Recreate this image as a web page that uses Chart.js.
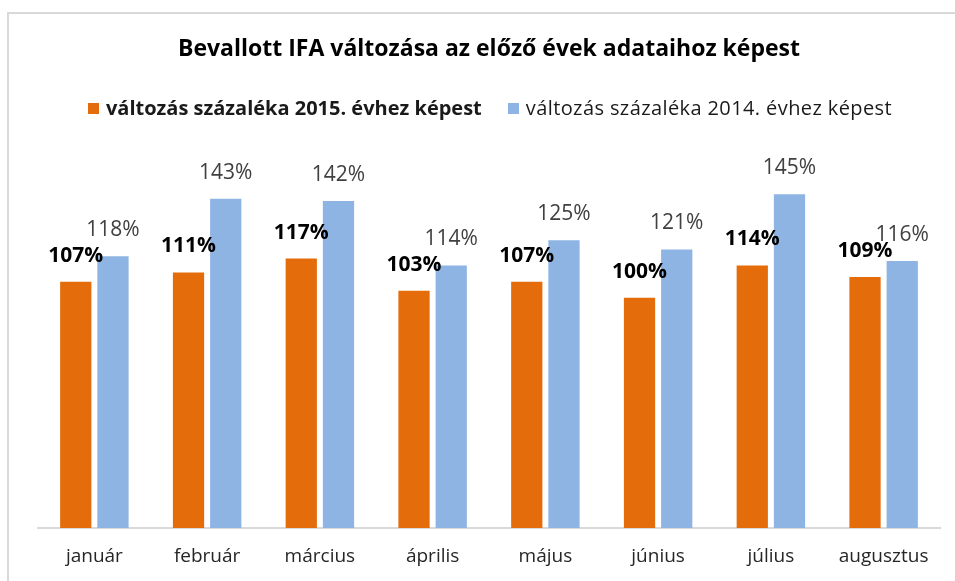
<!DOCTYPE html>
<html lang="hu">
<head>
<meta charset="UTF-8">
<title>Bevallott IFA változása</title>
<script src="https://cdn.jsdelivr.net/npm/chart.js"></script>
<style>
  body { margin: 0; background: #fff; font-family: "Open Sans", sans-serif; }
  .frame { position: absolute; left: 7px; top: 12px; width: 960px; height: 580px; border: 2px solid #d9d9d9; box-sizing: border-box; }
  .wrap { position: absolute; left: 0; top: 0; width: 955px; height: 581px; }
  #legend { position: absolute; top: 94px; left: 0; width: 980px; text-align: center; font-size: 20px; color: #1a1a1a; white-space: nowrap; }
  #legend span.item { display: inline-block; margin: 0 13px; }
  #legend span.box { display: inline-block; width: 11px; height: 11px; margin-right: 7px; vertical-align: 1px; }
</style>
</head>
<body>
<div class="frame"></div>
<div class="wrap"><canvas id="ifaChart" width="955" height="581"></canvas></div>
<div id="legend"></div>

<script>
const honapok = ['január', 'február', 'március', 'április', 'május', 'június', 'július', 'augusztus'];
const valtozas2015 = [107, 111, 117, 103, 107, 100, 114, 109];
const valtozas2014 = [118, 143, 142, 114, 125, 121, 145, 116];

// felirat a bar-ok fölé
const cimkek = {
    id: 'cimkek',
    afterDatasetsDraw(chart) {
        const ctx = chart.ctx;
        ctx.save();
        chart.data.datasets.forEach((ds, i) => {
            const meta = chart.getDatasetMeta(i);
            ctx.font = (i === 0 ? 'bold ' : '') + '21px "Open Sans", sans-serif';
            ctx.fillStyle = i === 0 ? '#000' : '#404040';
            ctx.textAlign = 'center';
            ctx.textBaseline = 'middle';
            meta.data.forEach((bar, j) => {
                ctx.fillText(ds.data[j] + '%', bar.x, bar.y - 26);
            });
        });
        ctx.restore();
    }
};

const ctx = document.getElementById('ifaChart').getContext('2d');
const chart = new Chart(ctx, {
    type: 'bar',
    data: {
        labels: honapok,
        datasets: [
            {
                label: 'változás százaléka 2015. évhez képest',
                data: valtozas2015,
                backgroundColor: '#E46C0A',
                categoryPercentage: 0.66,
                barPercentage: 0.84
            },
            {
                label: 'változás százaléka 2014. évhez képest',
                data: valtozas2014,
                backgroundColor: '#8EB4E3',
                categoryPercentage: 0.66,
                barPercentage: 0.84
            }
        ]
    },
    options: {
        responsive: false,
        animation: false,
        layout: { padding: { left: 38, right: 15, bottom: 11, top: 0 } },
        scales: {
            y: { display: false, min: 0, max: 160 },
            x: {
                grid: { display: false, drawTicks: false },
                border: { display: true, color: '#d9d9d9', width: 2 },
                ticks: { color: '#262626', padding: 17, font: { size: 19, family: 'Open Sans' } },
                afterFit: (scale) => { scale.height = 42; }
            }
        },
        plugins: {
            legend: { display: false },
            tooltip: { enabled: false },
            title: {
                display: true,
                text: 'Bevallott IFA változása az előző évek adataihoz képest',
                color: '#000',
                font: { size: 23, weight: 'bold', family: 'Open Sans' },
                padding: { top: 36, bottom: 96 }
            }
        }
    },
    plugins: [cimkek]
});

// jelmagyarazat
const legend = document.getElementById('legend');
chart.data.datasets.forEach((ds, i) => {
    const item = document.createElement('span');
    item.className = 'item';
    if (i === 0) item.style.fontWeight = 'bold';
    else item.style.letterSpacing = '0.4px';
    const box = document.createElement('span');
    box.className = 'box';
    box.style.background = ds.backgroundColor;
    item.appendChild(box);
    item.appendChild(document.createTextNode(ds.label));
    legend.appendChild(item);
});
</script>
</body>
</html>
